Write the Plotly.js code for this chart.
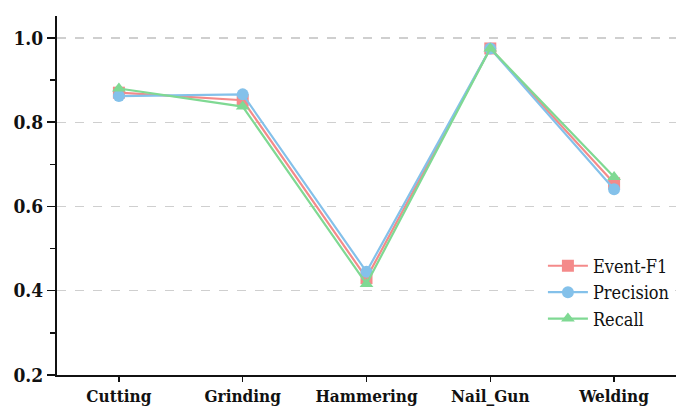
<!DOCTYPE html>
<html>
<head>
<meta charset="utf-8">
<script src="https://cdn.plot.ly/plotly-3.0.1.min.js"></script>
<style>
  html, body { margin: 0; padding: 0; background: #fff; }
  #chart { width: 677px; height: 409px; }
</style>
</head>
<body>
<div id="chart"></div>
<script>
// Per-class detection scores
const categories = ["Cutting", "Grinding", "Hammering", "Nail_Gun", "Welding"];
const eventF1   = [0.870, 0.852, 0.430, 0.975, 0.655];
const precision = [0.862, 0.866, 0.445, 0.975, 0.641];
const recall    = [0.880, 0.837, 0.416, 0.975, 0.670];
const yTickVals = [0.2, 0.4, 0.6, 0.8, 1.0];
const yTickText = ["0.2", "0.4", "0.6", "0.8", "1.0"];

const colors = { f1: "#f48a8a", prec: "#84c1ea", rec: "#7fd993" };
const SERIF = "DejaVu Serif Condensed";

function series(name, y, color, symbol) {
  return {
    type: "scatter",
    mode: "lines+markers",
    name: name,
    x: categories,
    y: y,
    line: { color: color, width: 2.2 },
    marker: { color: color, symbol: symbol, size: 12 }
  };
}

const data = [
  series("Event-F1", eventF1, colors.f1, "square"),
  series("Precision", precision, colors.prec, "circle"),
  series("Recall", recall, colors.rec, "triangle-up")
];

const layout = {
  width: 677,
  height: 409,
  margin: { l: 57, r: 1, t: 16, b: 34 },
  paper_bgcolor: "#fff",
  plot_bgcolor: "#fff",
  font: { family: SERIF, color: "#111" },
  showlegend: true,
  legend: {
    x: 0.785, y: 0.355, xanchor: "left", yanchor: "top",
    bgcolor: "#fff",
    font: { size: 18, family: SERIF, color: "#111" },
    tracegroupgap: 0,
    itemwidth: 40
  },
  xaxis: {
    type: "category",
    range: [-0.5, 4.5],
    showline: true, linecolor: "#111", linewidth: 2,
    ticks: "outside", ticklen: 5, tickwidth: 1.5, tickcolor: "#111",
    minor: { ticks: "outside", ticklen: 3, tickwidth: 1.5, tickcolor: "#111", dtick: 0.5, tick0: -0.5 },
    showgrid: false, zeroline: false,
    tickfont: { size: 17, family: SERIF, color: "#111", weight: "bold" }
  },
  yaxis: {
    range: [0.2, 1.052],
    tickvals: yTickVals, ticktext: yTickText,
    showline: true, linecolor: "#111", linewidth: 2,
    ticks: "outside", ticklen: 8, tickwidth: 1.5, tickcolor: "#111",
    minor: { ticks: "outside", ticklen: 5, tickwidth: 1.5, tickcolor: "#111", tickvals: [0.3, 0.5, 0.7, 0.9], showgrid: false },
    showgrid: true, gridcolor: "#cfcfcf", griddash: "dash", gridwidth: 1.2,
    zeroline: false,
    tickfont: { size: 19, family: SERIF, color: "#111", weight: "bold" }
  }
};

Plotly.newPlot("chart", data, layout, { displayModeBar: false, staticPlot: true });
</script>
</body>
</html>
